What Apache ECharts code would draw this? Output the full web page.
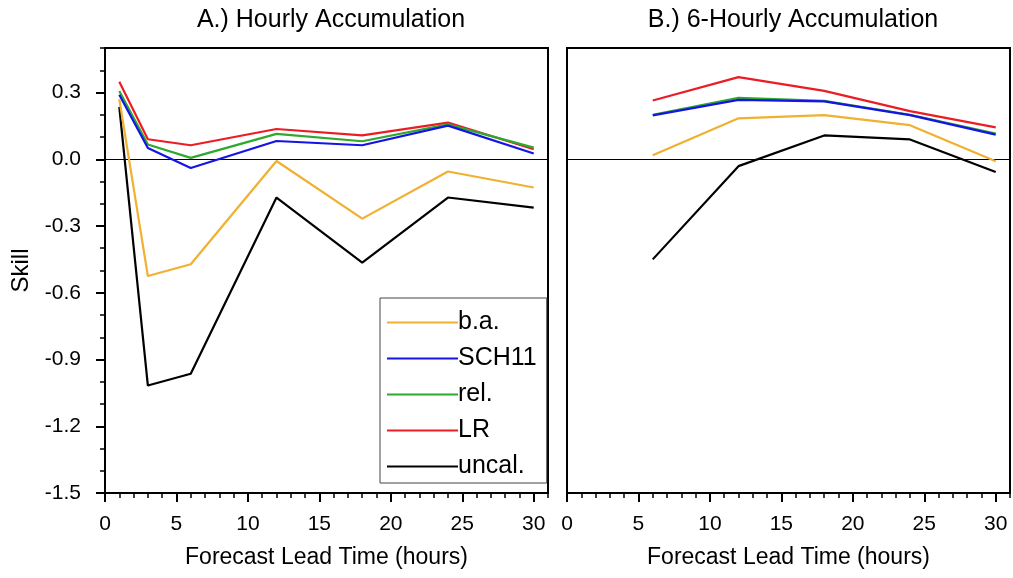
<!DOCTYPE html>
<html>
<head>
<meta charset="utf-8">
<script src="https://cdn.jsdelivr.net/npm/echarts@6/dist/echarts.min.js"></script>
<style>
html,body{margin:0;padding:0;background:#fff;}
#chart{width:1013px;height:578px;}
</style>
</head>
<body>
<div id="chart"></div>
<script>
// ---- data ----
const seriesNames = ['b.a.', 'SCH11', 'rel.', 'LR', 'uncal.'];
const hoursA = [1, 3, 6, 12, 18, 24, 30];
const baA   = [0.27, -0.525, -0.472, -0.008, -0.267, -0.055, -0.127];
const schA  = [0.29, 0.051, -0.039, 0.082, 0.063, 0.151, 0.026];
const relA  = [0.307, 0.066, 0.006, 0.114, 0.081, 0.157, 0.052];
const lrA   = [0.348, 0.09, 0.063, 0.136, 0.107, 0.165, 0.045];
const uncA  = [0.235, -1.017, -0.964, -0.172, -0.465, -0.172, -0.217];

const hoursB = [6, 12, 18, 24, 30];
const baB   = [0.018, 0.184, 0.198, 0.153, -0.009];
const schB  = [0.197, 0.267, 0.26, 0.198, 0.111];
const relB  = [0.2, 0.276, 0.262, 0.2, 0.115];
const lrB   = [0.264, 0.369, 0.307, 0.216, 0.143];
const uncB  = [-0.45, -0.031, 0.107, 0.089, -0.057];

const xMajorTicks = [0, 5, 10, 15, 20, 25, 30];
const xMinorTicks = [1,2,3,4,6,7,8,9,11,12,13,14,16,17,18,19,21,22,23,24,26,27,28,29,31];
const yMajorTicks = [-1.5, -1.2, -0.9, -0.6, -0.3, 0, 0.3];
const yMinorTicks = [-1.4,-1.3,-1.1,-1.0,-0.8,-0.7,-0.5,-0.4,-0.2,-0.1,0.1,0.2,0.4,0.5];

const titleA = 'A.) Hourly Accumulation';
const titleB = 'B.) 6-Hourly Accumulation';
const xName = 'Forecast Lead Time (hours)';
const yName = 'Skill';

// ---- style ----
const colors = {'b.a.': '#F0B030', 'SCH11': '#1414E6', 'rel.': '#2EA82E', 'LR': '#EC1C24', 'uncal.': '#000000'};
const FONT = "'Liberation Sans', Arial, Helvetica, sans-serif";

function pairs(xs, ys) { return xs.map((x, i) => [x, ys[i]]); }

const dataA = {'b.a.': baA, 'SCH11': schA, 'rel.': relA, 'LR': lrA, 'uncal.': uncA};
const dataB = {'b.a.': baB, 'SCH11': schB, 'rel.': relB, 'LR': lrB, 'uncal.': uncB};
const drawOrder = ['uncal.', 'LR', 'rel.', 'SCH11', 'b.a.'];

const series = [];
[[dataA, hoursA, 0], [dataB, hoursB, 1]].forEach(([d, hrs, gi]) => {
  drawOrder.forEach((name, k) => {
    const s = {
      name: name, type: 'line',
      xAxisIndex: gi * 2, yAxisIndex: gi * 2,
      data: pairs(hrs, d[name]),
      symbol: 'none', smooth: false, silent: true,
      lineStyle: {color: colors[name], width: 2.2},
      itemStyle: {color: colors[name]},
      z: 3 + k
    };
    if (k === 0) {
      s.markLine = {silent: true, symbol: 'none', label: {show: false},
        lineStyle: {color: '#000', width: 1, type: 'solid'},
        data: [{yAxis: 0}], z: 2};
    }
    series.push(s);
  });
});

const grids = [
  {left: 105, right: 465, top: 48, bottom: 85, show: true, borderColor: '#000', borderWidth: 2},
  {left: 567, right: 3, top: 48, bottom: 85, show: true, borderColor: '#000', borderWidth: 2}
];

function xAxes(gi) {
  return [
    {type: 'value', gridIndex: gi, min: 0, max: 31, position: 'bottom',
     name: xName, nameLocation: 'middle', nameGap: 53,
     nameTextStyle: {fontFamily: FONT, fontSize: 23, color: '#000'},
     axisLine: {show: true, onZero: false, lineStyle: {color: '#000', width: 2}},
     axisTick: {show: true, inside: false, length: 9, customValues: xMajorTicks, lineStyle: {color: '#000', width: 2}},
     axisLabel: {show: true, customValues: xMajorTicks, margin: 21, fontFamily: FONT, fontSize: 21, color: '#000'},
     splitLine: {show: false}},
    {type: 'value', gridIndex: gi, min: 0, max: 31, position: 'bottom',
     axisLine: {show: false, onZero: false},
     axisTick: {show: true, inside: false, length: 5, customValues: xMinorTicks, lineStyle: {color: '#000', width: 1.5}},
     axisLabel: {show: false}, splitLine: {show: false}}
  ];
}

const yAxes = [
  {type: 'value', gridIndex: 0, min: -1.5, max: 0.5, position: 'left',
   name: yName, nameLocation: 'middle', nameGap: 72, nameRotate: 90,
   nameTextStyle: {fontFamily: FONT, fontSize: 24, color: '#000'},
   axisLine: {show: true, onZero: false, lineStyle: {color: '#000', width: 2}},
   axisTick: {show: true, inside: false, length: 9, customValues: yMajorTicks, lineStyle: {color: '#000', width: 2}},
   axisLabel: {show: true, customValues: yMajorTicks, margin: 24, fontFamily: FONT, fontSize: 21, color: '#000',
     formatter: v => (Math.abs(v) < 1e-9 ? 0 : v).toFixed(1)},
   splitLine: {show: false}},
  {type: 'value', gridIndex: 0, min: -1.5, max: 0.5, position: 'left',
   axisLine: {show: false, onZero: false},
   axisTick: {show: true, inside: false, length: 5, customValues: yMinorTicks, lineStyle: {color: '#000', width: 1.5}},
   axisLabel: {show: false}, splitLine: {show: false}},
  {type: 'value', gridIndex: 1, min: -1.5, max: 0.5, position: 'left',
   axisLine: {show: true, onZero: false, lineStyle: {color: '#000', width: 2}},
   axisTick: {show: false}, axisLabel: {show: false}, splitLine: {show: false}},
  {type: 'value', gridIndex: 1, min: -1.5, max: 0.5, position: 'left',
   axisLine: {show: false}, axisTick: {show: false}, axisLabel: {show: false}, splitLine: {show: false}}
];

const option = {
  animation: false,
  backgroundColor: '#fff',
  title: [
    {text: titleA, left: 326, top: 3, textAlign: 'center',
     textStyle: {fontFamily: FONT, fontSize: 25, fontWeight: 'normal', color: '#000'}},
    {text: titleB, left: 788, top: 3, textAlign: 'center',
     textStyle: {fontFamily: FONT, fontSize: 25, fontWeight: 'normal', color: '#000'}}
  ],
  legend: {
    data: seriesNames, orient: 'vertical', left: 380, top: 298,
    padding: [12, 7, 4, 7], itemGap: 11, itemWidth: 71, itemHeight: 14,
    icon: 'path://M0,0H71V2H0Z',
    borderColor: '#444', borderWidth: 1, backgroundColor: '#fff',
    selectedMode: false,
    textStyle: {fontFamily: FONT, fontSize: 25, lineHeight: 24, color: '#000', padding: [0, 3, 0, -5]}
  },
  grid: grids,
  xAxis: [...xAxes(0), ...xAxes(1)],
  yAxis: yAxes,
  series: series
};

const chart = echarts.init(document.getElementById('chart'), null, {renderer: 'canvas'});
chart.setOption(option);
</script>
</body>
</html>
